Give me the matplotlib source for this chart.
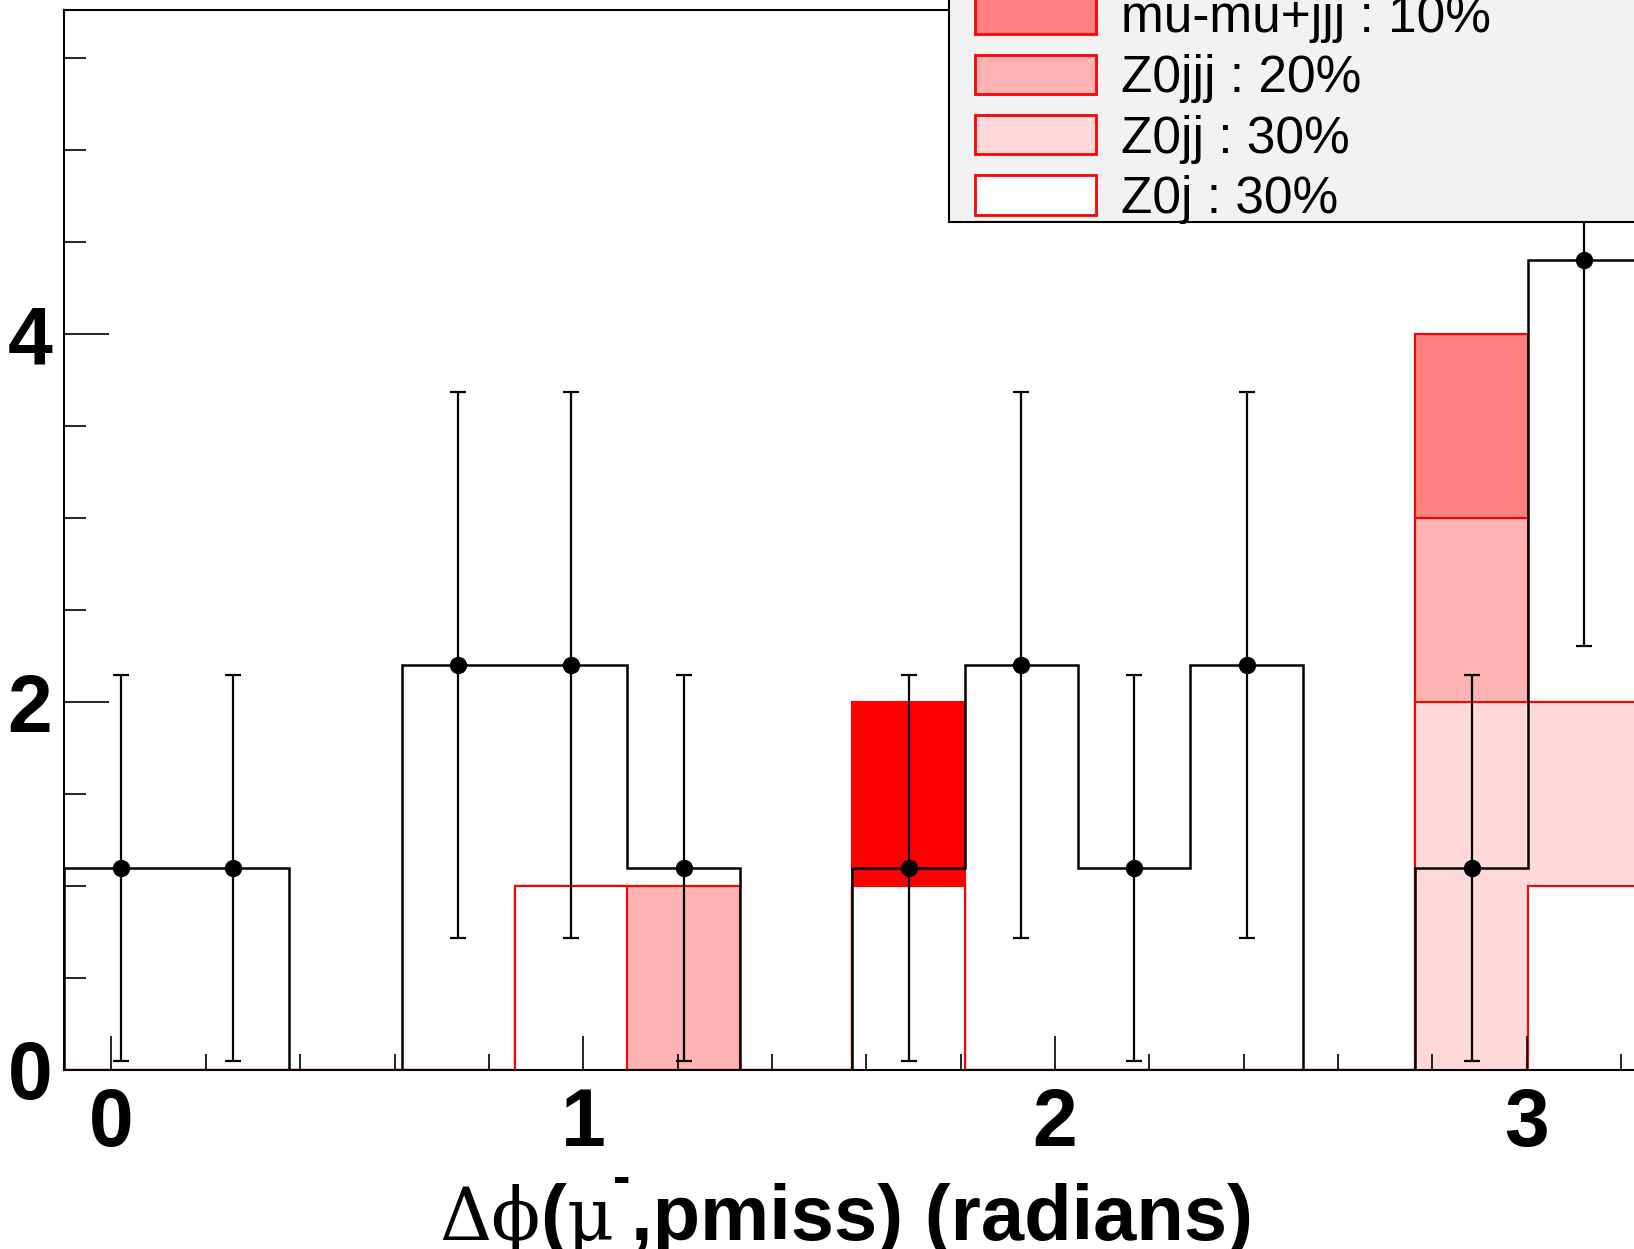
import matplotlib
matplotlib.use("Agg")
import matplotlib.pyplot as plt
from matplotlib.patches import Patch, Rectangle
from matplotlib.ticker import MultipleLocator
import numpy as np

# binning: 14 bins over [-0.1, pi + 0.1]
x_lo = -0.1
x_hi = np.pi + 0.1
n_bins = 14

# data (already scaled)
data_counts = [1.1, 1.1, 0, 2.2, 2.2, 1.1, 0, 1.1, 2.2, 1.1, 2.2, 0, 1.1, 4.4]

# backgrounds, bottom of the stack first
z0j = [0, 0, 0, 0, 1, 0, 0, 1, 0, 0, 0, 0, 0, 1]
z0jj = [0, 0, 0, 0, 0, 0, 0, 0, 0, 0, 0, 0, 2, 1]
z0jjj = [0, 0, 0, 0, 0, 1, 0, 0, 0, 0, 0, 0, 1, 0]
mumujjj = [0, 0, 0, 0, 0, 0, 0, 0, 0, 0, 0, 0, 1, 0]
top_sample = [0, 0, 0, 0, 0, 0, 0, 1, 0, 0, 0, 0, 0, 0]

stack = [z0j, z0jj, z0jjj, mumujjj, top_sample]
stack_colors = ["#ffffff", "#ffd9d9", "#ffb3b3", "#ff8080", "#ff0000"]
legend_labels = ["Z0j : 30%", "Z0jj : 30%", "Z0jjj : 20%", "mu-mu+jjj : 10%"]

W, H = 1634, 1249
fig = plt.figure(figsize=(W / 100, H / 100), dpi=100)
ax = fig.add_axes([64.3 / W, (H - 1070) / H, 1576.3 / W, 1060 / H])

edges = np.linspace(x_lo, x_hi, n_bins + 1)
centers = 0.5 * (edges[:-1] + edges[1:])

# stacked backgrounds, drawn like a THStack: biggest sum first
cum = np.cumsum(np.array(stack, dtype=float), axis=0)
for i in range(len(stack) - 1, -1, -1):
    ax.stairs(cum[i], edges, baseline=0, fill=True, facecolor=stack_colors[i],
              edgecolor="red", linewidth=1.5)

# data histogram outline + points
data = np.array(data_counts)
ax.stairs(data, edges, baseline=0, color="black", linewidth=1.8)
m = data > 0
ax.errorbar(centers[m], data[m], yerr=np.sqrt(data[m]), fmt="o", color="black",
            ms=11.5, capsize=6, elinewidth=1.6, capthick=1.6)

ax.set_xlim(x_lo, x_hi)
ax.set_ylim(0, 1060 / 184)

ax.xaxis.set_major_locator(MultipleLocator(1))
ax.xaxis.set_minor_locator(MultipleLocator(0.2))
ax.yaxis.set_major_locator(MultipleLocator(2))
ax.yaxis.set_minor_locator(MultipleLocator(0.5))
ax.tick_params(which="both", direction="in", top=False, right=False, width=1.2)
ax.tick_params(axis="x", which="major", length=24.5, pad=12)
ax.tick_params(axis="x", which="minor", length=11.5)
ax.tick_params(axis="y", which="major", length=32.4, pad=8.5)
ax.tick_params(axis="y", which="minor", length=15.8)
for lab in ax.get_xticklabels() + ax.get_yticklabels():
    lab.set_fontfamily("Liberation Sans")
    lab.set_fontweight("bold")
    lab.set_fontsize(58)
for sp in ax.spines.values():
    sp.set_linewidth(1.5)

# x axis title, assembled piece by piece (symbol font + bold helvetica)
sans_b = dict(family="Liberation Sans", weight="bold", size=56)
serif = dict(family="DejaVu Serif", weight="normal", size=52)
pieces = [
    ("\u0394\u03d5", serif, 0),
    ("(", sans_b, 0),
    ("\u03bc", serif, 0),
    ("-", dict(family="Liberation Sans", weight="bold", size=38), 46 / H),
    (",pmiss) (radians)", sans_b, 0),
]
r = fig.canvas.get_renderer()
y_base = 9 / H
placed = []
x = 0.0
for s, kw, dy in pieces:
    t = fig.text(0, y_base + dy, s, ha="left", va="baseline", fontfamily=kw["family"],
                 fontweight=kw["weight"], fontsize=kw["size"])
    placed.append((t, x))
    x += t.get_window_extent(r).width / W
start = 846 / W - x / 2
for t, off in placed:
    t.set_x(start + off)

# legend box (top part runs off the canvas)
fig.add_artist(Rectangle((949 / W, 1 - 222 / H), 0.7, 0.3, transform=fig.transFigure,
                         facecolor="#f2f2f2", edgecolor="black", linewidth=1.5))
handles = [Patch(facecolor=stack_colors[i], edgecolor="red", linewidth=2,
                 label=legend_labels[i]) for i in range(3, -1, -1)]
fig.legend(handles=handles, loc="lower left",
           bbox_to_anchor=(975 / W, 1 - 224 / H), borderaxespad=0, borderpad=0,
           frameon=False, prop=dict(family="Liberation Sans", size=37),
           handlelength=2.35, handleheight=0.8, handletextpad=0.5, labelspacing=0.22)

fig.savefig("out.png", dpi=100)
